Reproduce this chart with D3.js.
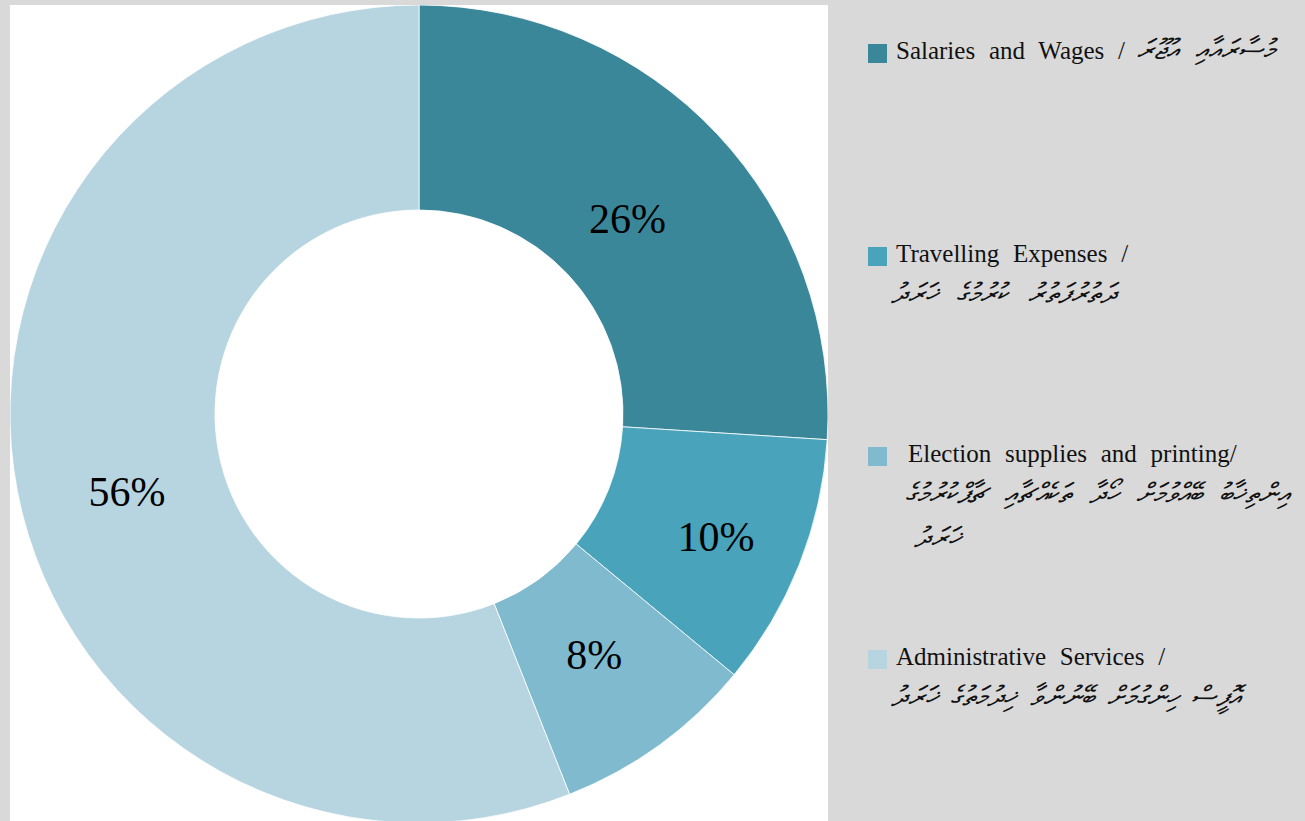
<!DOCTYPE html>
<html>
<head>
<meta charset="utf-8">
<script src="https://cdn.jsdelivr.net/npm/d3@7"></script>
<style>
html,body{margin:0;padding:0;background:#d9d9d9;}
svg{display:block;}
</style>
</head>
<body>
<svg id="chart" width="1305" height="821"></svg>
<script>
const categories = ["Salaries and Wages", "Travelling Expenses", "Election supplies and printing", "Administrative Services"];
const values = [26, 10, 8, 56];
const colors = ["#3a879a", "#48a3bb", "#7fbacf", "#b7d5e0"];
const legendEnglish = ["Salaries and Wages /", "Travelling Expenses /", "Election supplies and printing/", "Administrative Services /"];
const legendDhivehi = [
  ["މުސާރައާއި އުޖޫރަ"],
  ["ދަތުރުފަތުރު ކުރުމުގެ ޚަރަދު"],
  ["އިންތިޚާބު ބޭއްވުމަށް ހޯދާ ތަކެއްޗާއި ޗާޕްކުރުމުގެ", "ޚަރަދު"],
  ["އޮފީސް ހިންގުމަށް ބޭނުންވާ ޚިދުމަތުގެ ޚަރަދު"]
];

const svg = d3.select("#chart");
svg.append("rect").attr("x",0).attr("y",0).attr("width",1305).attr("height",821).attr("fill","#d9d9d9");
svg.append("rect").attr("x",10).attr("y",5).attr("width",818).attr("height",816).attr("fill","#ffffff");

const cx = 419, cy = 414, R = 409, r = 204;
const data = categories.map((c,i)=>({name:c, value:values[i], color:colors[i]}));
const pie = d3.pie().value(d=>d.value).sort(null);
const arc = d3.arc().innerRadius(r).outerRadius(R);
const arcs = pie(data);

const clip = svg.append("clipPath").attr("id","plotclip");
clip.append("rect").attr("x",10).attr("y",5).attr("width",818).attr("height",816);

const g = svg.append("g").attr("clip-path","url(#plotclip)")
  .append("g").attr("transform",`translate(${cx},${cy})`);
g.selectAll("path").data(arcs).join("path")
  .attr("d",arc).attr("fill",d=>d.data.color)
  .attr("stroke","#ffffff").attr("stroke-width",0.8);

const labelOffsets = [[-15,15],[12,10],[-5,-7],[9,21]];
g.selectAll("text.lbl").data(arcs).join("text").attr("class","lbl")
  .attr("x",(d,i)=>arc.centroid(d)[0]+labelOffsets[i][0])
  .attr("y",(d,i)=>arc.centroid(d)[1]+labelOffsets[i][1])
  .attr("text-anchor","middle").attr("dominant-baseline","central")
  .attr("font-family","'Liberation Serif','Times New Roman',serif")
  .attr("font-size",42).attr("fill","#000")
  .text(d=>d.data.value+"%");

// legend
const legendY = [44, 247, 447, 650];
const enX = [896, 896, 908, 896];
const dvSpacing = [10, 12, 10, 6];
const lg = svg.append("g");
data.forEach((d,i)=>{
  lg.append("rect").attr("x",868).attr("y",legendY[i]).attr("width",19).attr("height",19).attr("fill",d.color);
  const t = lg.append("text").attr("x",enX[i]).attr("y",legendY[i]+15)
    .attr("font-family","'Liberation Serif','Times New Roman',serif")
    .attr("font-size",25).attr("fill","#111").attr("word-spacing", 7.5)
    .text(legendEnglish[i]);
  if(i===0){
    t.append("tspan").attr("dx",12).attr("font-size",28).attr("font-style","italic")
      .attr("word-spacing",dvSpacing[i]).text(legendDhivehi[i][0]);
  } else {
    legendDhivehi[i].forEach((line,j)=>{
      lg.append("text").attr("x", j===0 ? (i===2 ? 905 : 891) : 914).attr("y",legendY[i]+56+j*44)
        .attr("font-family","'Noto Sans','DejaVu Sans',sans-serif")
        .attr("font-size",28).attr("fill","#111").attr("font-style","italic")
        .attr("word-spacing",dvSpacing[i])
        .text(line);
    });
  }
});
</script>
</body>
</html>
